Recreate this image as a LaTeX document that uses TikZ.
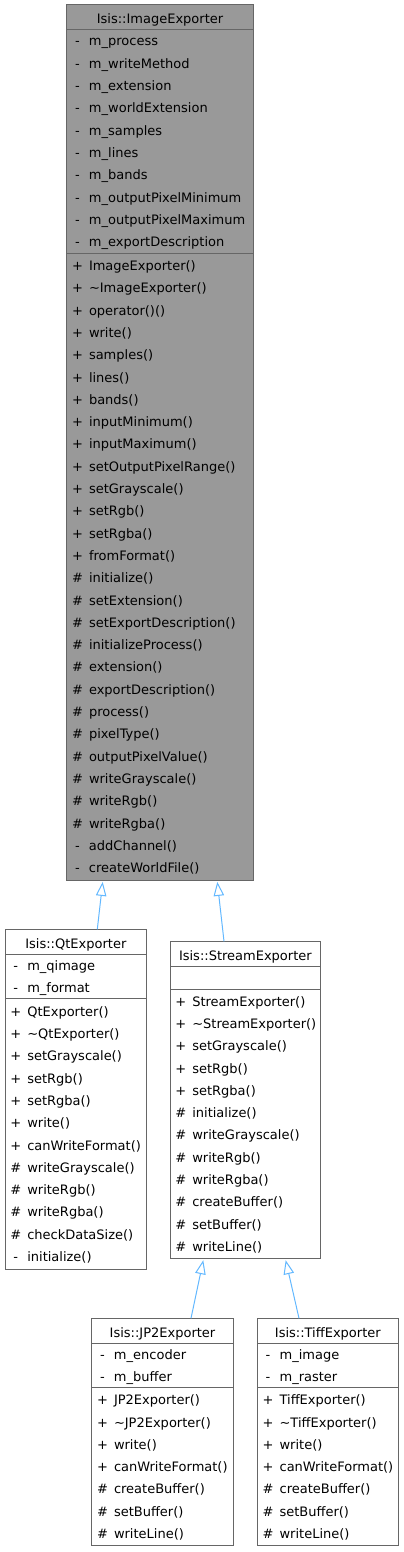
\documentclass[tikz,border=0pt]{standalone}
\usepackage{fontspec}
\setmainfont{DejaVu Sans}
\usepackage{xcolor}
\usetikzlibrary{positioning,arrows.meta}

\definecolor{edgegray}{HTML}{666666}
\definecolor{basegray}{HTML}{999999}
\definecolor{linkblue}{HTML}{63B8FF}

\newcommand\rowstrut{\rule[-6.3pt]{0pt}{22.3pt}}
\newcommand\mpub{\rowstrut\makebox[18.3pt][l]{\hspace{1.4pt}+}}
\newcommand\mprot{\rowstrut\makebox[18.3pt][l]{\hspace{1.4pt}\#}}
\newcommand\mpriv{\rowstrut\makebox[18.3pt][l]{\hspace{4.4pt}-}}
\newcommand\tld{\textasciitilde}

\tikzset{
  part/.style={draw=edgegray, line width=1pt, fill=white, inner xsep=4pt, inner ysep=0pt,
    outer sep=0pt, align=left, font=\fontsize{13}{22.3}\selectfont},
  head/.style={part, align=center, text height=18.8pt, text depth=6pt},
  inherit/.style={draw=linkblue, line width=1pt, -{Triangle[open, length=14pt, width=10.5pt]}}
}

\begin{document}
\begin{tikzpicture}[x=1pt, y=-1pt]
\useasboundingbox (0,0) rectangle (404,1552);

\node[head, fill=basegray, text width=178.6pt, text height=19.5pt, anchor=north west] (img) at (66.7,4.5) {Isis::ImageExporter};
\node[part, fill=basegray, text width=178.6pt, below=0pt of img] (img-attr) {\mpriv m\_process\\\mpriv m\_writeMethod\\\mpriv m\_extension\\\mpriv m\_worldExtension\\\mpriv m\_samples\\\mpriv m\_lines\\\mpriv m\_bands\\\mpriv m\_outputPixelMinimum\\\mpriv m\_outputPixelMaximum\\\mpriv m\_exportDescription};
\node[part, fill=basegray, text width=178.6pt, minimum height=627.4pt, below=0pt of img-attr] (img-ops) {\mpub ImageExporter()\\\mpub\tld ImageExporter()\\\mpub operator()()\\\mpub write()\\\mpub samples()\\\mpub lines()\\\mpub bands()\\\mpub inputMinimum()\\\mpub inputMaximum()\\\mpub setOutputPixelRange()\\\mpub setGrayscale()\\\mpub setRgb()\\\mpub setRgba()\\\mpub fromFormat()\\\mprot initialize()\\\mprot setExtension()\\\mprot setExportDescription()\\\mprot initializeProcess()\\\mprot extension()\\\mprot exportDescription()\\\mprot process()\\\mprot pixelType()\\\mprot outputPixelValue()\\\mprot writeGrayscale()\\\mprot writeRgb()\\\mprot writeRgba()\\\mpriv addChannel()\\\mpriv createWorldFile()};

\node[head, text width=133.7pt, anchor=north west] (qt) at (5,929.3) {Isis::QtExporter};
\node[part, text width=133.7pt, below=0pt of qt] (qt-attr) {\mpriv m\_qimage\\\mpriv m\_format};
\node[part, text width=133.7pt, minimum height=270.6pt, below=0pt of qt-attr] (qt-ops) {\mpub QtExporter()\\\mpub\tld QtExporter()\\\mpub setGrayscale()\\\mpub setRgb()\\\mpub setRgba()\\\mpub write()\\\mpub canWriteFormat()\\\mprot writeGrayscale()\\\mprot writeRgb()\\\mprot writeRgba()\\\mprot checkDataSize()\\\mpriv initialize()};

\node[head, text width=142.7pt, anchor=north west] (stream) at (170,941.3) {Isis::StreamExporter};
\node[part, text width=142.7pt, minimum height=23pt, below=0pt of stream] (stream-attr) {\rowstrut};
\node[part, text width=142.7pt, minimum height=269.6pt, below=0pt of stream-attr] (stream-ops) {\mpub StreamExporter()\\\mpub\tld StreamExporter()\\\mpub setGrayscale()\\\mpub setRgb()\\\mpub setRgba()\\\mprot initialize()\\\mprot writeGrayscale()\\\mprot writeRgb()\\\mprot writeRgba()\\\mprot createBuffer()\\\mprot setBuffer()\\\mprot writeLine()};

\node[head, text width=133.6pt, anchor=north west] (jp2) at (91.7,1318.3) {Isis::JP2Exporter};
\node[part, text width=133.6pt, below=0pt of jp2] (jp2-attr) {\mpriv m\_encoder\\\mpriv m\_buffer};
\node[part, text width=133.6pt, minimum height=158.1pt, below=0pt of jp2-attr] (jp2-ops) {\mpub JP2Exporter()\\\mpub\tld JP2Exporter()\\\mpub write()\\\mpub canWriteFormat()\\\mprot createBuffer()\\\mprot setBuffer()\\\mprot writeLine()};

\node[head, text width=133pt, anchor=north west] (tiff) at (257.3,1318.3) {Isis::TiffExporter};
\node[part, text width=133pt, below=0pt of tiff] (tiff-attr) {\mpriv m\_image\\\mpriv m\_raster};
\node[part, text width=133pt, minimum height=158.1pt, below=0pt of tiff-attr] (tiff-ops) {\mpub TiffExporter()\\\mpub\tld TiffExporter()\\\mpub write()\\\mpub canWriteFormat()\\\mprot createBuffer()\\\mprot setBuffer()\\\mprot writeLine()};

\draw[inherit] ([xshift=92.3pt]qt.north west) -- ([xshift=36pt,yshift=-1.5pt]img-ops.south west);
\draw[inherit] ([xshift=54pt]stream.north west) -- ([xshift=150.6pt,yshift=-1.5pt]img-ops.south west);
\draw[inherit] ([xshift=99.3pt]jp2.north west) -- ([xshift=33.3pt,yshift=-1.5pt]stream-ops.south west);
\draw[inherit] ([xshift=41.7pt]tiff.north west) -- ([xshift=115.7pt,yshift=-1.5pt]stream-ops.south west);
\end{tikzpicture}
\end{document}
